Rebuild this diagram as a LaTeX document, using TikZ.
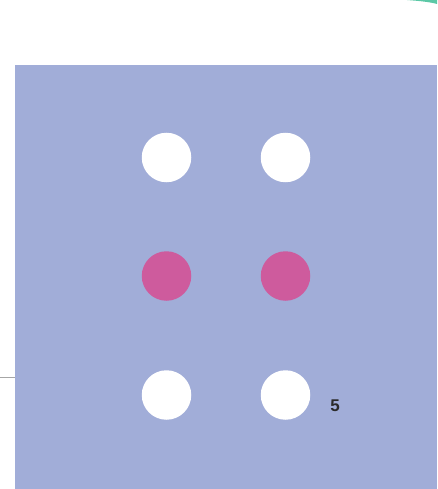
\documentclass[tikz,border=0pt]{standalone}
\usepackage{fontspec}
\setmainfont{Liberation Sans}
\definecolor{bgblue}{HTML}{A1ADD8}
\definecolor{dotpink}{HTML}{CE5B9D}
\definecolor{tealc}{HTML}{5CC8A6}
\definecolor{darktxt}{HTML}{2A2A2A}
\begin{document}
\begin{tikzpicture}[x=1pt,y=-1pt,
  dot/.style={circle,minimum size=49.5pt,inner sep=0pt,draw=none},
  whitedot/.style={dot,fill=white},
  pinkdot/.style={dot,fill=dotpink}]
\useasboundingbox (0,0) rectangle (437,489);
\fill[white] (0,0) rectangle (437,489);
\fill[tealc] (407,0) .. controls (420,1) and (430,2) .. (437,4) -- (437,0) -- cycle;
\draw[gray!70,line width=0.8pt] (0,377) -- (15,377);
\fill[bgblue] (15,65) rectangle (437,489);
\node[whitedot] (a) at (166.5,157.5) {};
\node[whitedot] (b) at (285.5,157.5) {};
\node[pinkdot] (c) at (166.5,276) {};
\node[pinkdot] (d) at (285.5,276) {};
\node[whitedot] (e) at (166.5,395) {};
\node[whitedot] (f) at (285.5,395) {};
\node[font=\bfseries\fontsize{17}{20}\selectfont,text=darktxt,inner sep=0pt] (n) at (335,406) {5};
\end{tikzpicture}
\end{document}
